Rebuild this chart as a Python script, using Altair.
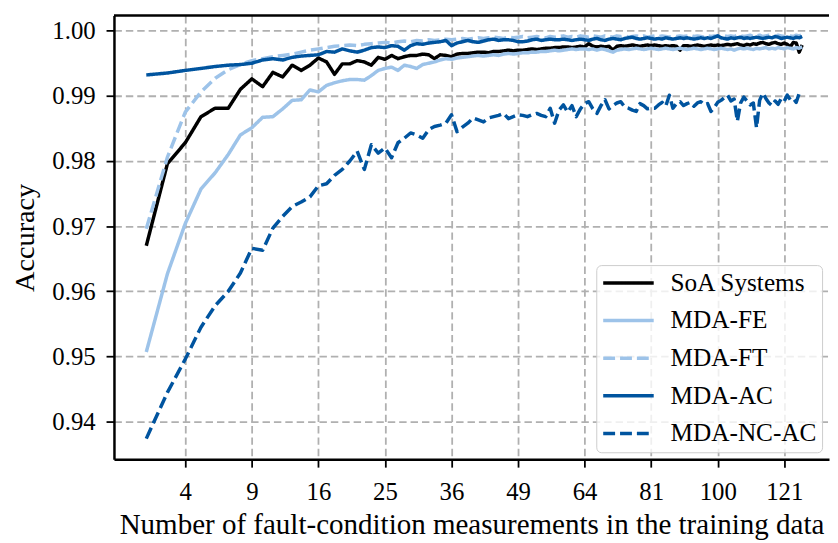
import altair as alt
import pandas as pd

# ---------------- data ----------------
n_values = list(range(2, 128))

soa = [
    0.9670, 0.9796, 0.9828, 0.9868, 0.9881, 0.9881, 0.9910, 0.9926, 0.9914, 0.9936,
    0.9929, 0.9947, 0.9939, 0.9947, 0.9958, 0.9952, 0.9933, 0.9949, 0.9949, 0.9954,
    0.9952, 0.9947, 0.9959, 0.9956, 0.9962, 0.9957, 0.9960, 0.9962, 0.9962, 0.9964,
    0.9963, 0.9957, 0.9963, 0.9962, 0.9960, 0.9964, 0.9965, 0.9965, 0.9966, 0.9967,
    0.9967, 0.9966, 0.9968, 0.9968, 0.9969, 0.9970, 0.9969, 0.9970, 0.9970, 0.9971,
    0.9972, 0.9971, 0.9972, 0.9973, 0.9973, 0.9974, 0.9974, 0.9975, 0.9975, 0.9974,
    0.9975, 0.9976, 0.9975, 0.9980, 0.9976, 0.9975, 0.9976, 0.9975, 0.9976, 0.9970,
    0.9976, 0.9977, 0.9976, 0.9977, 0.9978, 0.9977, 0.9976, 0.9977, 0.9978, 0.9977,
    0.9978, 0.9977, 0.9976, 0.9977, 0.9976, 0.9977, 0.9976, 0.9970, 0.9977, 0.9977,
    0.9976, 0.9977, 0.9978, 0.9977, 0.9976, 0.9977, 0.9978, 0.9977, 0.9978, 0.9977,
    0.9978, 0.9979, 0.9978, 0.9979, 0.9980, 0.9978, 0.9977, 0.9979, 0.9978, 0.9980,
    0.9979, 0.9981, 0.9982, 0.9980, 0.9979, 0.9981, 0.9982, 0.9980, 0.9979, 0.9981,
    0.9979, 0.9975, 0.9982, 0.9981, 0.9967, 0.9978,
]

mda_fe = [
    0.9507, 0.9627, 0.9704, 0.9757, 0.9782, 0.9810, 0.9840, 0.9851, 0.9867, 0.9868,
    0.9880, 0.9893, 0.9894, 0.9909, 0.9906, 0.9916, 0.9920, 0.9923, 0.9925, 0.9925,
    0.9924, 0.9931, 0.9939, 0.9942, 0.9944, 0.9939, 0.9947, 0.9945, 0.9942, 0.9948,
    0.9950, 0.9952, 0.9955, 0.9957, 0.9956, 0.9958, 0.9959, 0.9960, 0.9961, 0.9962,
    0.9961, 0.9962, 0.9963, 0.9962, 0.9964, 0.9965, 0.9964, 0.9965, 0.9966, 0.9966,
    0.9967, 0.9967, 0.9968, 0.9968, 0.9969, 0.9970, 0.9969, 0.9970, 0.9971, 0.9972,
    0.9971, 0.9972, 0.9972, 0.9971, 0.9972, 0.9970, 0.9972, 0.9971, 0.9969, 0.9967,
    0.9970, 0.9971, 0.9972, 0.9971, 0.9972, 0.9973, 0.9972, 0.9971, 0.9972, 0.9973,
    0.9972, 0.9971, 0.9972, 0.9973, 0.9972, 0.9971, 0.9972, 0.9973, 0.9972, 0.9971,
    0.9972, 0.9973, 0.9972, 0.9971, 0.9972, 0.9973, 0.9972, 0.9971, 0.9972, 0.9973,
    0.9972, 0.9971, 0.9972, 0.9970, 0.9972, 0.9973, 0.9972, 0.9973, 0.9972, 0.9971,
    0.9973, 0.9972, 0.9973, 0.9974, 0.9972, 0.9973, 0.9972, 0.9974, 0.9973, 0.9972,
    0.9974, 0.9973, 0.9972, 0.9974, 0.9973, 0.9975,
]

mda_ft = [
    0.9696, 0.9806, 0.9875, 0.9906, 0.9927, 0.9940, 0.9948, 0.9954, 0.9957, 0.9960,
    0.9962, 0.9964, 0.9967, 0.9970, 0.9972, 0.9974, 0.9976, 0.9977, 0.9978, 0.9977,
    0.9979, 0.9980, 0.9981, 0.9982, 0.9981, 0.9983, 0.9984, 0.9983, 0.9985, 0.9984,
    0.9986, 0.9985, 0.9986, 0.9987, 0.9986, 0.9987, 0.9988, 0.9987, 0.9988, 0.9989,
    0.9988, 0.9989, 0.9990, 0.9989, 0.9988, 0.9990, 0.9989, 0.9990, 0.9991, 0.9989,
    0.9990, 0.9991, 0.9990, 0.9989, 0.9991, 0.9990, 0.9991, 0.9992, 0.9990, 0.9991,
    0.9990, 0.9992, 0.9991, 0.9990, 0.9992, 0.9991, 0.9990, 0.9992, 0.9991, 0.9990,
    0.9992, 0.9991, 0.9992, 0.9990, 0.9991, 0.9992, 0.9991, 0.9992, 0.9990, 0.9991,
    0.9992, 0.9991, 0.9992, 0.9991, 0.9990, 0.9992, 0.9991, 0.9992, 0.9991, 0.9992,
    0.9993, 0.9991, 0.9992, 0.9991, 0.9990, 0.9992, 0.9991, 0.9992, 0.9991, 0.9993,
    0.9992, 0.9991, 0.9992, 0.9991, 0.9993, 0.9992, 0.9991, 0.9992, 0.9993, 0.9991,
    0.9992, 0.9993, 0.9991, 0.9992, 0.9993, 0.9992, 0.9991, 0.9993, 0.9992, 0.9991,
    0.9993, 0.9992, 0.9991, 0.9993, 0.9992, 0.9994,
]

mda_ac = [
    0.9932, 0.9935, 0.9939, 0.9942, 0.9945, 0.9947, 0.9948, 0.9950, 0.9955, 0.9957,
    0.9955, 0.9959, 0.9961, 0.9962, 0.9963, 0.9968, 0.9967, 0.9972, 0.9969, 0.9967,
    0.9970, 0.9974, 0.9975, 0.9974, 0.9977, 0.9976, 0.9970, 0.9977, 0.9980, 0.9979,
    0.9981, 0.9982, 0.9983, 0.9985, 0.9977, 0.9981, 0.9983, 0.9985, 0.9983, 0.9982,
    0.9984, 0.9986, 0.9987, 0.9985, 0.9986, 0.9986, 0.9985, 0.9983, 0.9983, 0.9984,
    0.9986, 0.9987, 0.9985, 0.9986, 0.9987, 0.9986, 0.9986, 0.9987, 0.9986, 0.9985,
    0.9986, 0.9987, 0.9986, 0.9985, 0.9987, 0.9988, 0.9986, 0.9985, 0.9987, 0.9988,
    0.9987, 0.9986, 0.9988, 0.9989, 0.9990, 0.9988, 0.9987, 0.9988, 0.9989, 0.9988,
    0.9987, 0.9988, 0.9987, 0.9989, 0.9988, 0.9987, 0.9988, 0.9989, 0.9988, 0.9989,
    0.9988, 0.9987, 0.9988, 0.9989, 0.9988, 0.9989, 0.9988, 0.9990, 0.9992, 0.9989,
    0.9988, 0.9987, 0.9989, 0.9988, 0.9989, 0.9990, 0.9988, 0.9989, 0.9988, 0.9989,
    0.9990, 0.9989, 0.9988, 0.9989, 0.9990, 0.9989, 0.9991, 0.9990, 0.9988, 0.9989,
    0.9990, 0.9989, 0.9988, 0.9990, 0.9989, 0.9991,
]

mda_nc_ac = [
    0.9374, 0.9445, 0.9496, 0.9545, 0.9578, 0.9600, 0.9628, 0.9666, 0.9663, 0.9697,
    0.9715, 0.9730, 0.9737, 0.9745, 0.9762, 0.9765, 0.9778, 0.9787, 0.9800, 0.9815,
    0.9787, 0.9825, 0.9812, 0.9820, 0.9805, 0.9828, 0.9835, 0.9843, 0.9840, 0.9835,
    0.9848, 0.9853, 0.9855, 0.9858, 0.9871, 0.9845, 0.9852, 0.9858, 0.9866, 0.9863,
    0.9860, 0.9866, 0.9868, 0.9870, 0.9873, 0.9865, 0.9868, 0.9871, 0.9870, 0.9868,
    0.9871, 0.9873, 0.9870, 0.9868, 0.9881, 0.9858, 0.9878, 0.9886, 0.9875, 0.9885,
    0.9868, 0.9880, 0.9888, 0.9891, 0.9880, 0.9873, 0.9885, 0.9894, 0.9880, 0.9885,
    0.9889, 0.9891, 0.9883, 0.9881, 0.9878, 0.9876, 0.9888, 0.9885, 0.9880, 0.9881,
    0.9881, 0.9886, 0.9890, 0.9884, 0.9901, 0.9881, 0.9888, 0.9891, 0.9885, 0.9888,
    0.9890, 0.9884, 0.9889, 0.9891, 0.9886, 0.9888, 0.9876, 0.9882, 0.9890, 0.9893,
    0.9897, 0.9901, 0.9892, 0.9895, 0.9861, 0.9889, 0.9898, 0.9892, 0.9886, 0.9889,
    0.9851, 0.9893, 0.9904, 0.9896, 0.9889, 0.9885, 0.9892, 0.9887, 0.9896, 0.9892,
    0.9901, 0.9894, 0.9896, 0.9890, 0.9904, 0.9906,
]

series_names = ["SoA Systems", "MDA-FE", "MDA-FT", "MDA-AC", "MDA-NC-AC"]
series_values = [soa, mda_fe, mda_ft, mda_ac, mda_nc_ac]
series_colors = ["#000000", "#9DC3E9", "#9DC3E9", "#00549F", "#00549F"]
series_dashes = [[1, 0], [1, 0], [12, 5], [1, 0], [12, 5]]

x_ticks = [4, 9, 16, 25, 36, 49, 64, 81, 100, 121]
y_ticks = [0.94, 0.95, 0.96, 0.97, 0.98, 0.99, 1.00]

rows = []
for name, vals in zip(series_names, series_values):
    for n, v in zip(n_values, vals):
        rows.append({"n": n, "acc": v, "series": name})
df = pd.DataFrame(rows)

FONT = "Liberation Serif"
W, H = 722, 448

legend = alt.Legend(
    title=None,
    orient="none",
    legendX=487,
    legendY=252,
    symbolType="stroke",
    symbolSize=2601,
    symbolStrokeWidth=3.5,
    labelFont=FONT,
    labelFontSize=25.5,
    labelColor="black",
    labelOffset=15,
    clipHeight=26,
    rowPadding=11,
    padding=5,
    fillColor="rgba(255,255,255,0.8)",
    strokeColor="#cccccc",
    cornerRadius=5,
)

lines = alt.Chart(df).mark_line(strokeWidth=3.5, strokeCap="butt", strokeJoin="round", clip=True).encode(
    x=alt.X(
        "n:Q",
        scale=alt.Scale(type="sqrt", domain=[0.862, 136.25], nice=False, zero=False),
        axis=alt.Axis(
            values=x_ticks,
            format="d",
            title="Number of fault-condition measurements in the training data",
            labelPadding=13,
            titlePadding=6,
            titleFontSize=29.3,
        ),
    ),
    y=alt.Y(
        "acc:Q",
        scale=alt.Scale(domain=[0.93424, 1.00232], nice=False, zero=False),
        axis=alt.Axis(
            values=y_ticks,
            format=".2f",
            title="Accuracy",
            labelPadding=11,
            titlePadding=12,
            titleFontSize=28.5,
        ),
    ),
    color=alt.Color("series:N", scale=alt.Scale(domain=series_names, range=series_colors), legend=legend),
    strokeDash=alt.StrokeDash("series:N", scale=alt.Scale(domain=series_names, range=series_dashes), legend=legend),
)

top_border = alt.Chart(pd.DataFrame({"a": [0]})).mark_rule(color="black", strokeWidth=2.5).encode(
    x=alt.value(0), x2=alt.value(W), y=alt.value(0)
)

chart = (
    alt.layer(lines, top_border)
    .properties(
        width=W,
        height=H,
        padding={"left": 107, "top": 5, "right": 1, "bottom": 81},
        autosize=alt.AutoSizeParams(type="none"),
    )
    .configure_view(stroke=None)
    .configure_axis(
        labelFont=FONT,
        titleFont=FONT,
        labelFontSize=25,
        titleFontWeight="normal",
        labelColor="black",
        titleColor="black",
        domainColor="black",
        domainWidth=2.5,
        tickColor="black",
        tickWidth=1.8,
        tickSize=8,
        gridColor="#b0b0b0",
        gridDash=[7.5, 4],
        gridWidth=1.8,
    )
)

chart.save("out.html", embed_options={"renderer": "svg", "actions": False})
